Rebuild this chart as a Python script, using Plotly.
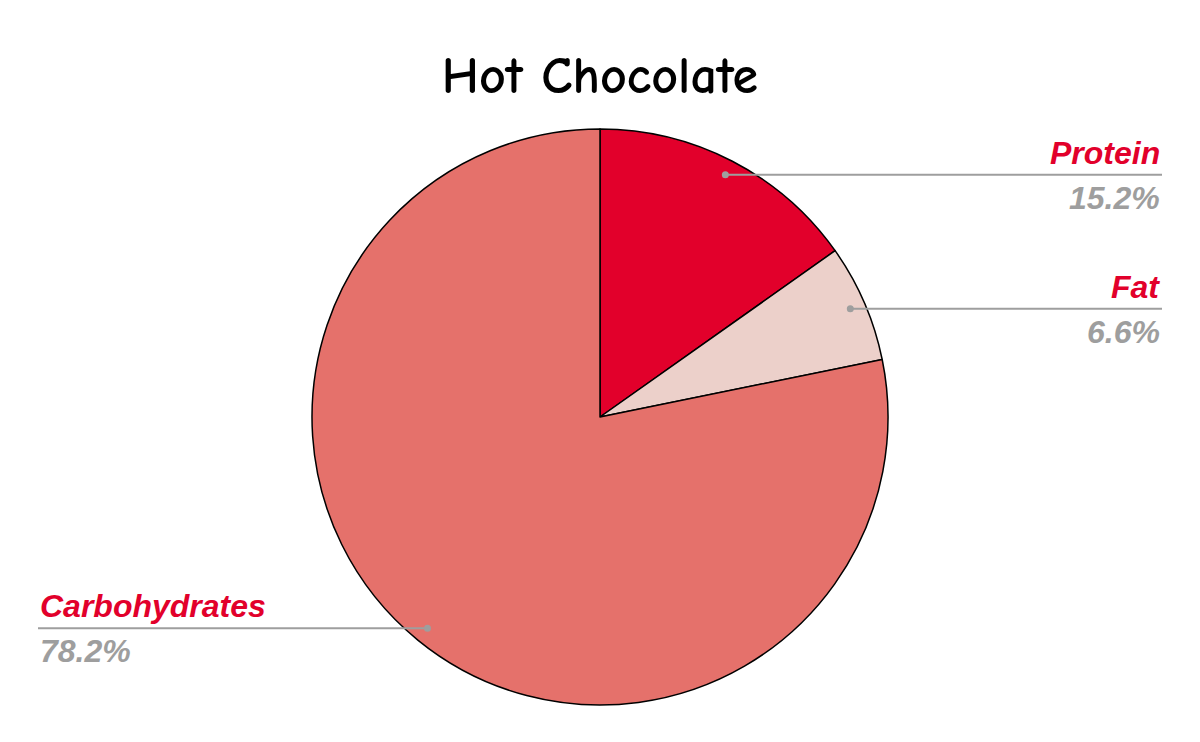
import math
import plotly.graph_objects as go

# data
labels = ["Protein", "Fat", "Carbohydrates"]
values = [15.2, 6.6, 78.2]
colors = ["#e2002b", "#ecd0ca", "#e5716b"]
title = "Hot Chocolate"

W, H = 1200, 742
CX, CY, R = 600, 417, 288  # pie centre/radius in pixels

fig = go.Figure()
fig.add_trace(go.Pie(
    labels=labels,
    values=values,
    marker=dict(colors=colors, line=dict(color="black", width=1.5)),
    sort=False,
    direction="clockwise",
    rotation=0,
    textinfo="none",
    hoverinfo="label+percent",
    showlegend=False,
    domain=dict(x=[(CX - R) / W, (CX + R) / W],
                y=[(H - CY - R) / H, (H - CY + R) / H]),
))

# outside labels with leader lines, positioned from the slice mid-angles
total = sum(values)
cum = 0
for lab, v in zip(labels, values):
    mid = (cum + v / 2) / total * 2 * math.pi
    cum += v
    px = CX + 0.947 * R * math.sin(mid)
    py = CY - 0.947 * R * math.cos(mid)
    right = math.sin(mid) >= 0
    end = 1162 if right else 38
    xp, yp = px / W, 1 - py / H
    fig.add_shape(type="line", xref="paper", yref="paper",
                  x0=xp, y0=yp, x1=end / W, y1=yp,
                  line=dict(color="#9e9e9e", width=2))
    fig.add_shape(type="circle", xref="paper", yref="paper",
                  x0=(px - 3.5) / W, x1=(px + 3.5) / W,
                  y0=1 - (py + 3.5) / H, y1=1 - (py - 3.5) / H,
                  fillcolor="#9e9e9e", line=dict(width=0))
    anchor = "right" if right else "left"
    fig.add_annotation(x=end / W, y=yp, xref="paper", yref="paper",
                       text="<b><i>%s</i></b>" % lab, showarrow=False,
                       xanchor=anchor, yanchor="bottom", yshift=2,
                       font=dict(family="Liberation Sans, Arial", size=32, color="#e2002b"))
    fig.add_annotation(x=end / W, y=yp, xref="paper", yref="paper",
                       text="<b><i>%.1f%%</i></b>" % (v / total * 100), showarrow=False,
                       xanchor=anchor, yanchor="top", yshift=-3,
                       font=dict(family="Liberation Sans, Arial", size=32, color="#9e9e9e"))

fig.update_layout(
    width=W, height=H,
    margin=dict(l=0, r=0, t=0, b=0),
    paper_bgcolor="white",
    title=dict(text="<b>%s</b>" % title, x=0.5, xanchor="center",
               y=1 - 75 / H, yanchor="middle",
               font=dict(family="Comic Sans MS, Comic Neue, DejaVu Sans", size=52,
                         color="black", weight="bold")),
)

fig.write_html("out.html", config={"displayModeBar": False},
               post_script="document.body.style.margin='0';")
